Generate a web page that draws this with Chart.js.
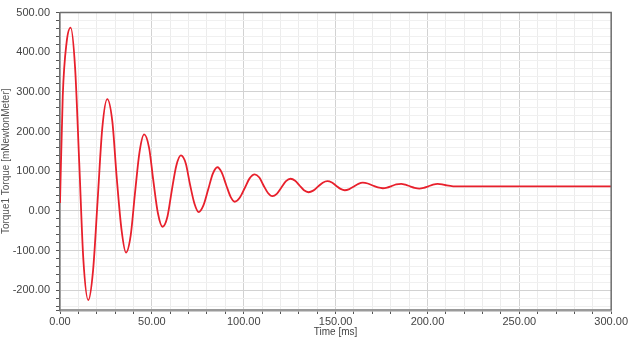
<!DOCTYPE html>
<html>
<head>
<meta charset="utf-8">
<script src="https://cdn.jsdelivr.net/npm/chart.js@4/dist/chart.umd.min.js"></script>
<style>
html,body{margin:0;padding:0;background:#fff;}
#wrap{width:629px;height:340px;}
</style>
</head>
<body>
<div id="wrap"><canvas id="c" width="629" height="340"></canvas></div>
<script>
// Time samples [ms]
const timeMs = [0, 1.5, 3.6, 5.8, 8.2, 10.5, 12.7, 15.4, 18.0, 20.5, 23.0, 25.7, 28.5, 30.8, 33.5, 35.9,
  38.5, 40.8, 43.3, 45.8, 48.5, 50.8, 53.3, 55.8, 58.5, 60.8, 63.3, 65.8, 68.5, 70.7, 73.2, 75.5,
  78.0, 80.6, 83.2, 85.7, 88.0, 90.4, 92.8, 95.1, 97.8, 100.5, 103.2, 106.0, 108.5, 110.8, 113.2, 115.6,
  118.0, 120.5, 123.0, 125.5, 128.0, 130.4, 132.8, 135.3, 137.8, 140.4, 143.0, 145.5, 148.0, 150.3, 152.7, 155.0,
  157.5, 160.0, 162.4, 164.8, 167.5, 170.2, 173.0, 175.7, 178.0, 180.5, 183.0, 185.7, 188.0, 190.5, 193.0, 195.6,
  198.0, 200.5, 203.0, 205.5, 208.0, 210.5, 214.0, 230.0, 250.0, 270.0, 290.0, 300.0];
// Torque1 Torque [mNewtonMeter]
const torque = [20, 290, 425, 462, 362, 118, -122, -225, -150, 28, 208, 282, 225, 88, -48, -105,
  -61, 44, 149, 193, 159, 76, -6, -40, -14, 50, 114, 140, 119, 68, 18, -3,
  13, 53, 94, 110, 97, 66, 36, 23, 33, 57, 82, 92, 84, 64, 45, 37,
  43, 59, 75, 81, 76, 64, 52, 47, 51, 61, 71, 75, 71.5, 63.5, 55.5, 52,
  55, 61.5, 68, 71, 69, 64, 59, 57, 58.5, 62.5, 66.5, 68, 66, 62, 58, 56,
  58, 62, 66, 68, 67, 64, 62, 62, 62, 62, 62, 62];

const xTickLabels = ["0.00", "50.00", "100.00", "150.00", "200.00", "250.00", "300.00"];
const yTickLabels = ["-200.00", "-100.00", "0.00", "100.00", "200.00", "300.00", "400.00", "500.00"];
const xMajor = [0, 50, 100, 150, 200, 250, 300];
const yMajor = [-200, -100, 0, 100, 200, 300, 400, 500];

const points = timeMs.map((t, i) => ({x: t, y: torque[i]}));

const framePlugin = {
  id: 'frame',
  afterDatasetsDraw(chart) {
    const {ctx, chartArea: a} = chart;
    ctx.save();
    ctx.strokeStyle = '#6e6e6e';
    ctx.lineWidth = 1.5;
    ctx.beginPath();
    ctx.moveTo(a.left, a.top);
    ctx.lineTo(a.right, a.top);
    ctx.lineTo(a.right, a.bottom);
    ctx.stroke();
    ctx.restore();
  }
};

new Chart(document.getElementById('c'), {
  type: 'line',
  data: {
    datasets: [{
      data: points,
      borderColor: '#e8202c',
      borderWidth: 1.8,
      pointRadius: 0,
      fill: false,
      cubicInterpolationMode: 'monotone'
    }]
  },
  options: {
    responsive: false,
    animation: false,
    devicePixelRatio: 1,
    layout: {padding: {left: 0, right: 17, top: 8, bottom: 0}},
    plugins: {legend: {display: false}, tooltip: {enabled: false}},
    scales: {
      x: {
        type: 'linear',
        min: 0, max: 300,
        afterFit(s) { s.height = 30; },
        afterBuildTicks(s) {
          const t = [];
          for (let v = 0; v <= 300; v += 10) t.push({value: v});
          s.ticks = t;
        },
        ticks: {
          autoSkip: false,
          maxRotation: 0,
          padding: 1,
          color: '#444',
          font: {family: 'Liberation Sans, Arial, sans-serif', size: 11},
          callback(v) { const i = xMajor.indexOf(v); return i >= 0 ? xTickLabels[i] : ''; }
        },
        grid: {
          color: (c) => (c.tick && c.tick.value % 50 === 0) ? '#d2d2d2' : '#ececec',
          lineWidth: 1,
          drawTicks: true,
          tickLength: 4,
          tickColor: '#555'
        },
        border: {display: true, color: '#9a9a9a', width: 2.5},
        title: {
          display: true,
          text: 'Time [ms]',
          color: '#444',
          font: {family: 'Liberation Sans, Arial, sans-serif', size: 10},
          padding: {top: 0, bottom: 2}
        }
      },
      y: {
        type: 'linear',
        min: -250, max: 500,
        afterFit(s) { s.width = 60; },
        afterBuildTicks(s) {
          const t = [{value: -250}];
          for (let v = -240; v <= 500; v += 20) t.push({value: v});
          s.ticks = t;
        },
        ticks: {
          autoSkip: false,
          padding: 6,
          color: '#444',
          font: {family: 'Liberation Sans, Arial, sans-serif', size: 11},
          callback(v) { const i = yMajor.indexOf(v); return i >= 0 ? yTickLabels[i] : ''; }
        },
        grid: {
          color: (c) => (c.tick && c.tick.value % 100 === 0) ? '#d2d2d2' : '#f0f0f0',
          lineWidth: 1,
          drawTicks: true,
          tickLength: 4,
          tickColor: '#555'
        },
        border: {display: true, color: '#6e6e6e', width: 1.5},
        title: {
          display: true,
          text: 'Torque1 Torque [mNewtonMeter]',
          color: '#555',
          font: {family: 'Liberation Sans, Arial, sans-serif', size: 10},
          padding: {top: 0, bottom: 2}
        }
      }
    }
  },
  plugins: [framePlugin]
});
</script>
</body>
</html>
